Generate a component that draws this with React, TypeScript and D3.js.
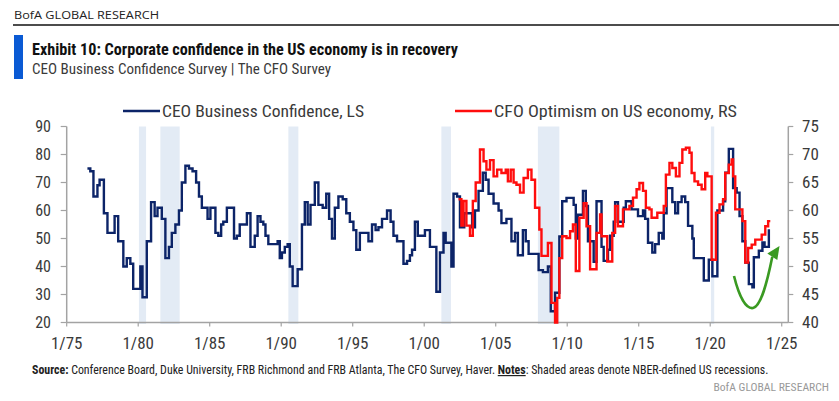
import React from "react";
import * as d3 from "d3";

// ---------- data ----------
const ceoDates = [
  1976.45, 1976.65, 1976.87, 1977.15, 1977.3, 1977.6, 1977.85, 1978.35, 1978.6, 1978.96,
  1979.2, 1979.45, 1979.65, 1980.15, 1980.3, 1980.6, 1980.9, 1981.15, 1981.35, 1981.65,
  1981.9, 1982.15, 1982.35, 1982.6, 1982.85, 1983.05, 1983.3, 1983.55, 1983.8, 1984.05,
  1984.25, 1984.45, 1984.85, 1985.05, 1985.4, 1985.6, 1985.8, 1985.95, 1986.2, 1986.7,
  1986.9, 1987.1, 1987.6, 1987.85, 1988.15, 1988.35, 1988.55, 1988.75, 1988.9, 1989.1,
  1989.75, 1989.9, 1990.05, 1990.25, 1990.45, 1990.6, 1990.8, 1991.15, 1991.45, 1991.65,
  1991.85, 1992.05, 1992.35, 1992.6, 1992.9, 1993.15, 1993.35, 1993.55, 1993.75, 1994.0,
  1994.3, 1994.55, 1994.8, 1995.05, 1995.25, 1995.5, 1996.1, 1996.35, 1996.6, 1996.8,
  1997.05, 1997.4, 1997.65, 1997.85, 1998.1, 1998.55, 1998.8, 1999.0, 1999.15, 1999.35,
  1999.55, 2000.05, 2000.4, 2000.85, 2001.1, 2001.35, 2001.5, 2001.9, 2002.05, 2002.3,
  2002.5, 2002.8, 2003.35, 2003.55, 2003.8, 2004.1, 2004.3, 2004.5, 2004.85, 2005.2,
  2005.4, 2005.75, 2006.1, 2006.35, 2006.55, 2006.9, 2007.1, 2007.3, 2008.0, 2008.3,
  2008.65, 2008.85, 2009.15, 2009.45, 2009.65, 2009.95, 2010.45, 2010.6, 2010.75, 2011.1,
  2011.3, 2011.45, 2011.85, 2012.05, 2012.4, 2012.55, 2012.85, 2013.0, 2013.25, 2013.35,
  2013.55, 2013.95, 2014.1, 2014.5, 2014.95, 2015.3, 2015.45, 2015.65, 2015.95, 2016.15,
  2016.4, 2016.65, 2016.75, 2016.95, 2017.35, 2017.55, 2017.75, 2018.0, 2018.25, 2018.45,
  2018.75, 2018.85, 2019.55, 2019.9, 2020.15, 2020.5, 2020.9, 2021.05, 2021.3, 2021.6,
  2021.85, 2022.05, 2022.25, 2022.45, 2022.7, 2022.95, 2023.05, 2023.4, 2023.65, 2023.8,
  2024.1,
];
const ceoValues = [
  75, 74, 65, 69, 71, 59, 52, 58, 49, 40,
  43, 41, 32, 40, 29, 49, 63, 58, 61, 57,
  43, 47, 52, 55, 60, 70, 76, 75, 74, 70,
  65, 61, 57, 61, 52, 51, 55, 56, 61, 50,
  51, 55, 59, 47, 51, 58, 56, 55, 51, 48,
  49, 43, 45, 47, 48, 40, 33, 39, 55, 63,
  55, 62, 70, 62, 61, 66, 57, 50, 61, 65,
  64, 59, 56, 53, 46, 52, 49, 55, 53, 54,
  57, 60, 56, 51, 49, 41, 42, 44, 46, 56,
  51, 53, 47, 31, 45, 52, 48.5, 40, 66, 65,
  54, 59, 54, 60, 67, 73.5, 71, 66, 62.5, 60,
  55.5, 57, 49, 52, 44, 53, 49, 44.5, 38.7, 38,
  40, 24, 30.6, 50.7, 63.3, 64.5, 62, 50, 58.5, 67,
  61.6, 49, 41.7, 63.3, 47, 42, 46, 51, 56, 63,
  56, 61, 63.3, 60.4, 58, 60, 57, 48.5, 45, 48,
  52, 50, 59, 68, 63, 59, 63, 65, 63, 54.5,
  50, 43, 35, 42.4, 36.5, 60, 63.3, 73.5, 82, 68,
  66.4, 58, 49, 41.4, 33.7, 32.6, 43.3, 45.6, 48.6, 47,
  53.3,
];

const cfoDates = [
  2002.4, 2002.6, 2002.75, 2002.95, 2003.2, 2003.4, 2003.6, 2003.9, 2004.15, 2004.35,
  2004.6, 2004.85, 2005.1, 2005.4, 2005.7, 2005.85, 2006.05, 2006.25, 2006.45, 2006.7,
  2006.95, 2007.25, 2007.5, 2007.75, 2008.05, 2008.2, 2008.65, 2008.9, 2009.15, 2009.3,
  2009.45, 2009.65, 2009.95, 2010.2, 2010.4, 2010.6, 2010.85, 2011.15, 2011.35, 2011.6,
  2012.05, 2012.3, 2012.4, 2012.8, 2013.15, 2013.35, 2013.55, 2013.9, 2014.35, 2014.6,
  2014.85, 2015.05, 2015.3, 2015.5, 2015.75, 2015.9, 2016.3, 2016.75, 2016.9, 2017.15,
  2017.35, 2017.6, 2017.85, 2018.05, 2018.3, 2018.55, 2018.7, 2018.9, 2019.15, 2019.4,
  2019.65, 2019.8, 2020.1, 2020.4, 2020.65, 2020.9, 2021.05, 2021.3, 2021.5, 2021.6,
  2021.75, 2022.25, 2022.45, 2022.65, 2022.9, 2023.15, 2023.6, 2023.85, 2024.05, 2024.2,
];
const cfoValues = [
  62, 57.3, 61.7, 57.3, 55.5, 61.7, 65, 70.9, 68.8, 67.3,
  69, 66.1, 67.3, 66.7, 67.3, 65.2, 67.3, 65, 64.6, 63.2,
  65.8, 67.3, 65.5, 60.5, 56.6, 51.9, 54.2, 43.5, 40, 44.4,
  51.5, 55.4, 55.1, 56.3, 57.5, 49.2, 58.7, 61.3, 57.2, 49.5,
  56, 59.3, 55.4, 50.9, 56, 60.8, 57.2, 60.2, 60.8, 62.3,
  63.8, 64.9, 63.5, 60.5, 60.2, 58.7, 59.6, 60.8, 66.4, 68.5,
  67.6, 66.1, 68.5, 70.9, 71.2, 70.3, 66.7, 65.2, 64.6, 63.8,
  66.7, 66.1, 51.2, 59.6, 61.1, 62, 66.7, 68.2, 69.1, 66.1,
  60.2, 58.1, 50.7, 53.3, 53.9, 54.8, 55.7, 57.2, 58.1, 58.1,
];

const recessionStarts = [1980.05, 1981.55, 1990.5, 2001.2, 2007.95, 2020.05];
const recessionEnds = [1980.55, 1982.9, 1991.2, 2001.87, 2009.45, 2020.28];

const leftTicks = [20, 30, 40, 50, 60, 70, 80, 90];
const rightTicks = [40, 45, 50, 55, 60, 65, 70, 75];
const xTickYears = [1975, 1980, 1985, 1990, 1995, 2000, 2005, 2010, 2015, 2020, 2025];
const xTickLabels = ["1/75", "1/80", "1/85", "1/90", "1/95", "1/00", "1/05", "1/10", "1/15", "1/20", "1/25"];

const ceoLabel = "CEO Business Confidence, LS";
const cfoLabel = "CFO Optimism on US economy, RS";

// ---------- styles ----------
const NAVY = "#0c2468";
const RED = "#ff0d0d";
const AXIS = "#a3a3a3";
const SHADE = "#e3ebf5";
const TEXT = "#3a3a3a";
const FONT = "'Liberation Sans Narrow','Arial Narrow','Roboto Condensed','DejaVu Sans Condensed',sans-serif";

export default function App() {
  const x = d3.scaleLinear().domain([1975, 2025.46]).range([66.7, 788.3]);
  const yL = d3.scaleLinear().domain([20, 90]).range([322.5, 126.5]);
  const yR = d3.scaleLinear().domain([40, 75]).range([322.5, 126.5]);

  const ceoLine = d3
    .line<number>()
    .x((_, i) => x(ceoDates[i]))
    .y((v) => yL(v))
    .curve(d3.curveStepAfter);
  const cfoLine = d3
    .line<number>()
    .x((_, i) => x(cfoDates[i]))
    .y((v) => yR(v))
    .curve(d3.curveStepAfter);

  const [top, bottom] = [yL(90), yL(20)];
  const [left, right] = x.range();

  return (
    <svg width={839} height={401} style={{ position: "absolute", left: 0, top: 0, background: "#fff" }} fontFamily={FONT}>
      {/* header */}
      <text x={14} y={19} fontSize={11} fill="#222" textLength={145} lengthAdjust="spacingAndGlyphs" fontFamily="'Open Sans',sans-serif">
        BofA GLOBAL RESEARCH
      </text>
      <line x1={13} x2={839} y1={25} y2={25} stroke="#111" strokeWidth={1.5} />
      <rect x={14} y={35} width={9} height={44} fill="#0a5ad4" />
      <text x={32} y={55} fontSize={16} fontWeight="bold" fill="#111" textLength={426} lengthAdjust="spacingAndGlyphs">
        Exhibit 10: Corporate confidence in the US economy is in recovery
      </text>
      <text x={32} y={74} fontSize={15} fill={TEXT} textLength={299} lengthAdjust="spacingAndGlyphs">
        CEO Business Confidence Survey | The CFO Survey
      </text>

      {/* legend */}
      <line x1={123} x2={160} y1={111} y2={111} stroke={NAVY} strokeWidth={2.4} />
      <text x={162} y={116.7} fontSize={17} fill={TEXT} textLength={202} lengthAdjust="spacingAndGlyphs">
        {ceoLabel}
      </text>
      <line x1={455} x2={492} y1={111} y2={111} stroke={RED} strokeWidth={2.4} />
      <text x={494} y={116.7} fontSize={17} fill={TEXT} textLength={243} lengthAdjust="spacingAndGlyphs">
        {cfoLabel}
      </text>

      {/* recession shading */}
      {recessionStarts.map((s, i) => (
        <rect key={i} x={x(s)} y={top} width={x(recessionEnds[i]) - x(s)} height={bottom - top + 1.5} fill={SHADE} />
      ))}

      {/* axes */}
      <line x1={left} x2={left} y1={top} y2={bottom} stroke={AXIS} strokeWidth={1.5} />
      <line x1={right} x2={right} y1={top} y2={bottom} stroke={AXIS} strokeWidth={1.5} />
      <line x1={left} x2={right} y1={bottom} y2={bottom} stroke={AXIS} strokeWidth={1.5} />
      {leftTicks.map((t) => (
        <g key={"l" + t}>
          <line x1={left - 6} x2={left} y1={yL(t)} y2={yL(t)} stroke={AXIS} strokeWidth={1.2} />
          <text x={51} y={yL(t)} dy="0.35em" textAnchor="end" fontSize={16} fill={TEXT}>
            {t}
          </text>
        </g>
      ))}
      {rightTicks.map((t) => (
        <g key={"r" + t}>
          <line x1={right} x2={right + 5} y1={yR(t)} y2={yR(t)} stroke={AXIS} strokeWidth={1.2} />
          <text x={802} y={yR(t)} dy="0.35em" textAnchor="start" fontSize={17} fill={TEXT}>
            {t}
          </text>
        </g>
      ))}
      {xTickYears.map((yr, i) => (
        <g key={"x" + yr}>
          <line x1={x(yr)} x2={x(yr)} y1={bottom} y2={bottom + 4} stroke={AXIS} strokeWidth={1.2} />
          <text x={x(yr)} y={348.5} textAnchor="middle" fontSize={17} fill={TEXT}>
            {xTickLabels[i]}
          </text>
        </g>
      ))}

      {/* series */}
      <path d={ceoLine(ceoValues) || ""} fill="none" stroke={NAVY} strokeWidth={2.4} strokeLinejoin="miter" />
      <path d={cfoLine(cfoValues) || ""} fill="none" stroke={RED} strokeWidth={2.4} strokeLinejoin="miter" />

      {/* green recovery arrow */}
      <path d="M734,276 C740,300 747,309 753,308 C761,306 767,283 772.3,256.8" fill="none" stroke="#3a9a22" strokeWidth={2.6} />
      <path d="M779.5,246 L777.3,260.1 L767.3,253.5 Z" fill="#3a9a22" />

      {/* source */}
      <text x={32} y={374} fontSize={11.9} fill="#222">
        <tspan fontWeight="bold">Source:</tspan>
        <tspan> Conference Board, Duke University, FRB Richmond and FRB Atlanta, The CFO Survey, Haver. </tspan>
        <tspan fontWeight="bold" textDecoration="underline">Notes</tspan>
        <tspan>: Shaded areas denote NBER-defined US recessions.</tspan>
      </text>
      <text x={829} y={390.7} fontSize={11.6} fill="#999" textAnchor="end">
        BofA GLOBAL RESEARCH
      </text>
    </svg>
  );
}
